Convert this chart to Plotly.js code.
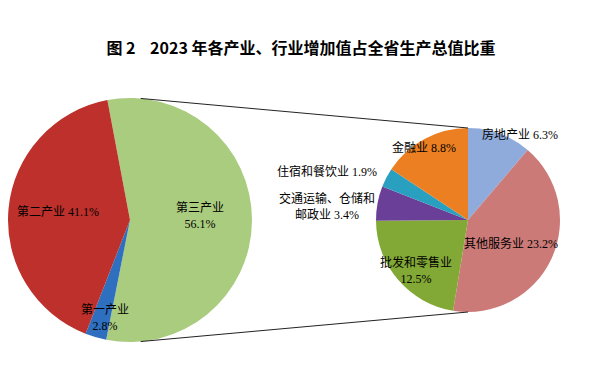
<!DOCTYPE html>
<html><head><meta charset="utf-8">
<script src="https://cdn.plot.ly/plotly-3.0.1.min.js"></script>
<style>html,body{margin:0;padding:0;background:#fff}#c{width:596px;height:374px}</style>
</head><body><div id="c"></div>
<script>
// Data
const titleText = '图 2\u00a0\u00a0\u00a0 2023 年各产业、行业增加值占全省生产总值比重';
const mainLabels = ['第三产业', '第一产业', '第二产业'];
const mainValues = [56.1, 2.8, 41.1];
const mainColors = ['#aacc7f', '#2e6fbf', '#bd302b'];
const subLabels = ['房地产业', '其他服务业', '批发和零售业', '交通运输、仓储和邮政业', '住宿和餐饮业', '金融业'];
const subValues = [6.3, 23.2, 12.5, 3.4, 1.9, 8.8];
const subColors = ['#8fabdc', '#cc7a78', '#82a836', '#6a3f97', '#2aa0c0', '#ec7f22'];

// Layout geometry (pixels)
const W = 596, H = 374;
const L = {cx: 130, cy: 220, r: 122};
const R = {cx: 468, cy: 220, r: 92};
function dom(g) {
  return {x: [(g.cx - g.r) / W, (g.cx + g.r) / W], y: [(H - g.cy - g.r) / H, (H - g.cy + g.r) / H]};
}
const px = (x) => x / W, py = (y) => 1 - y / H;

// label positions (pixel centres) and line-break formats
const mainLabelPos = [[200, 216], [105, 318], [58, 212]];
const mainLabelBreak = [true, true, false];
const subLabelPos = [[520, 134], [511, 243], [416, 270], [327, 206], [327, 171], [424, 147]];
const subLabelText = (i) => {
  if (i === 3) return '交通运输、仓储和<br>邮政业 ' + subValues[i].toFixed(1) + '%';
  if (i === 2) return subLabels[i] + '<br>' + subValues[i].toFixed(1) + '%';
  return subLabels[i] + ' ' + subValues[i].toFixed(1) + '%';
};

const labelFont = {family: 'Liberation Serif, Noto Sans CJK SC, serif', size: 12, color: '#000'};

const annotations = [];
mainLabels.forEach((l, i) => {
  annotations.push({
    xref: 'paper', yref: 'paper', x: px(mainLabelPos[i][0]), y: py(mainLabelPos[i][1]),
    text: l + (mainLabelBreak[i] ? '<br>' : ' ') + mainValues[i].toFixed(1) + '%',
    showarrow: false, font: labelFont, align: 'center', xanchor: 'center', yanchor: 'middle'
  });
});
subLabels.forEach((l, i) => {
  annotations.push({
    xref: 'paper', yref: 'paper', x: px(subLabelPos[i][0]), y: py(subLabelPos[i][1]),
    text: subLabelText(i),
    showarrow: false, font: labelFont, align: 'center', xanchor: 'center', yanchor: 'middle'
  });
});

// connector lines computed from pie geometry
const aTop = 5 * Math.PI / 180, aBot = 175 * Math.PI / 180;
const pt = (g, a) => [g.cx + g.r * Math.sin(a), g.cy - g.r * Math.cos(a)];
const lt = pt(L, aTop), lb = pt(L, aBot), rt = pt(R, 0), rb = pt(R, Math.PI);
const shapes = [
  {type: 'line', xref: 'paper', yref: 'paper', x0: px(lt[0]), y0: py(lt[1]), x1: px(rt[0]), y1: py(rt[1]), line: {color: '#222', width: 1}},
  {type: 'line', xref: 'paper', yref: 'paper', x0: px(lb[0]), y0: py(lb[1]), x1: px(rb[0]), y1: py(rb[1]), line: {color: '#222', width: 1}}
];

const data = [
  {type: 'pie', labels: mainLabels, values: mainValues, sort: false, direction: 'clockwise',
   rotation: -10.7, domain: dom(L), textinfo: 'none', hoverinfo: 'label+percent',
   marker: {colors: mainColors, line: {width: 0}}, showlegend: false},
  {type: 'pie', labels: subLabels, values: subValues, sort: false, direction: 'clockwise',
   rotation: 0, domain: dom(R), textinfo: 'none', hoverinfo: 'label+value',
   marker: {colors: subColors, line: {width: 0}}, showlegend: false}
];

const layout = {
  width: W, height: H, margin: {l: 0, r: 0, t: 0, b: 0},
  paper_bgcolor: '#fff', plot_bgcolor: '#fff', showlegend: false,
  title: {text: '<b>' + titleText + '</b>', x: 0.505, xanchor: 'center', y: py(48), yanchor: 'middle',
          font: {family: 'Noto Sans CJK SC, sans-serif', size: 16, color: '#000'}},
  annotations: annotations, shapes: shapes
};
Plotly.newPlot('c', data, layout, {staticPlot: true});
</script></body></html>
